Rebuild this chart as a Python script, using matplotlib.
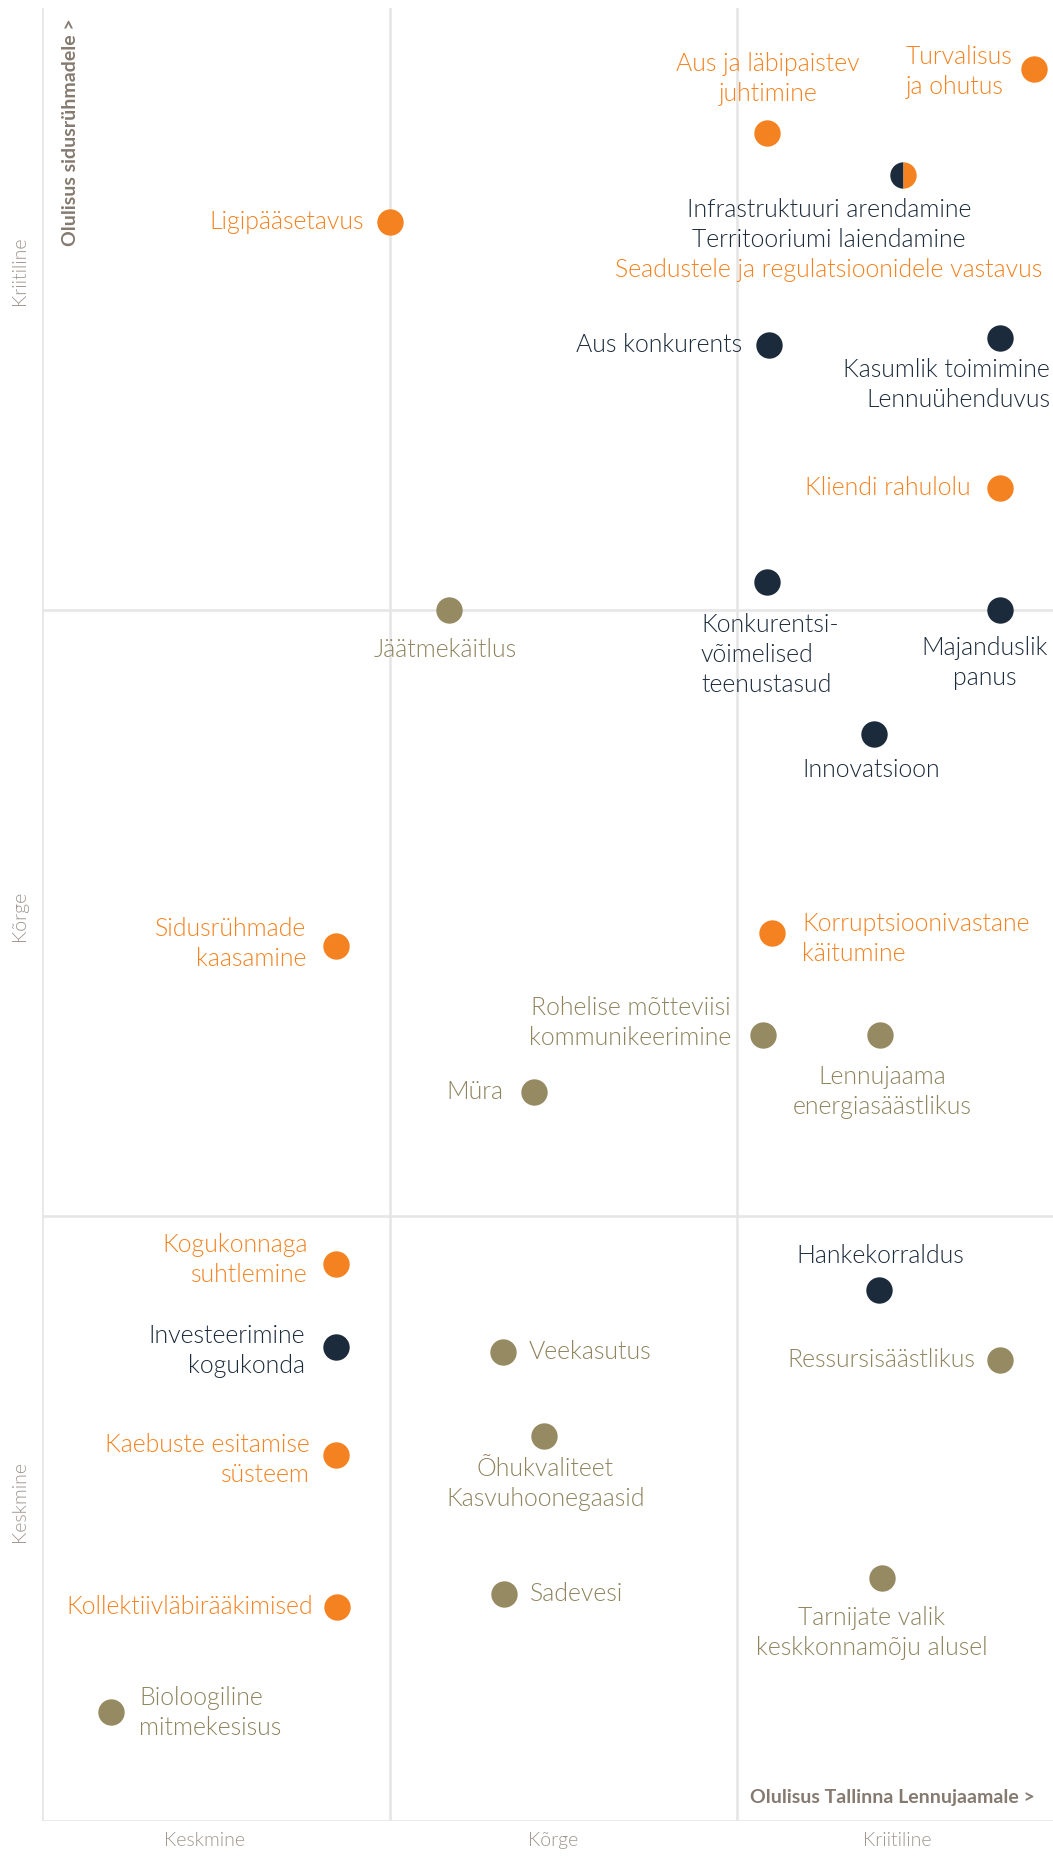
import matplotlib
matplotlib.use("Agg")
import matplotlib.pyplot as plt

# ---------------- data ----------------
topics = [
    "Turvalisus\nja ohutus",
    "Aus ja läbipaistev\njuhtimine",
    "Infrastruktuuri arendamine\nTerritooriumi laiendamine\nSeadustele ja regulatsioonidele vastavus",
    "Aus konkurents",
    "Kasumlik toimimine\nLennuühenduvus",
    "Ligipääsetavus",
    "Kliendi rahulolu",
    "Konkurentsi-\nvõimelised\nteenustasud",
    "Majanduslik\npanus",
    "Innovatsioon",
    "Jäätmekäitlus",
    "Sidusrühmade\nkaasamine",
    "Korruptsioonivastane\nkäitumine",
    "Rohelise mõtteviisi\nkommunikeerimine",
    "Lennujaama\nenergiasäästlikus",
    "Müra",
    "Hankekorraldus",
    "Ressursisäästlikus",
    "Kogukonnaga\nsuhtlemine",
    "Investeerimine\nkogukonda",
    "Veekasutus",
    "Kaebuste esitamise\nsüsteem",
    "Õhukvaliteet\nKasvuhoonegaasid",
    "Sadevesi",
    "Kollektiivläbirääkimised",
    "Tarnijate valik\nkeskkonnamõju alusel",
    "Bioloogiline\nmitmekesisus",
]
# importance to the airport (x) and to stakeholders (y), 0..3 scale
airport_importance = [2.855, 2.086, 2.478, 2.092, 2.757, 1.000, 2.757, 2.086, 2.757,
                      2.394, 1.171, 0.846, 2.101, 2.075, 2.412, 1.416, 2.409, 2.757,
                      0.846, 0.846, 1.327, 0.846, 1.445, 1.329, 0.849, 2.417, 0.199]
stakeholder_importance = [2.893, 2.788, 2.718, 2.438, 2.449, 2.641, 2.201, 2.046, 2.000,
                          1.795, 2.000, 1.445, 1.467, 1.298, 1.298, 1.204, 0.877, 0.761,
                          0.920, 0.783, 0.775, 0.604, 0.636, 0.375, 0.353, 0.401, 0.180]
# topic group: S = social (orange), E = economic (navy), K = environmental (tan), M = mixed
group = ["S", "S", "M", "E", "E", "S", "S", "E", "E",
         "E", "K", "S", "S", "K", "K", "K", "E", "K",
         "S", "E", "K", "S", "K", "K", "S", "K", "K"]
# per-line groups for the mixed label
mixed_line_groups = ["E", "E", "S"]

level_labels = ["Keskmine", "Kõrge", "Kriitiline"]
x_title = "Olulisus Tallinna Lennujaamale >"
y_title = "Olulisus sidusrühmadele >"

# ---------------- layout / style ----------------
dot_color = {"S": "#F58220", "E": "#1C2B3B", "K": "#968A63"}
text_color = {"S": "#F58220", "E": "#1C2B3B", "K": "#8F845E"}
# label offsets in pixels (dx, dy of first line, + = up) and alignment
label_layout = [
    (-128, 12, "left"), (1, 69, "center"), (-74, -35, "center"), (-27, 0, "right"),
    (50, -32, "right"), (-26, 0, "right"), (-29, 0, "right"), (-66, -43, "left"),
    (-15, -38, "center"), (-3, -36, "center"), (-4, -40, "center"), (-30, 17, "right"),
    (30, 9, "left"), (-32, 27, "right"), (2, -42, "center"), (-31, 0, "right"),
    (1, 34, "center"), (-25, 0, "right"), (-28, 19, "right"), (-31, 11, "right"),
    (26, 0, "left"), (-26, 10, "right"), (1, -33, "center"), (26, 0, "left"),
    (-24, 0, "right"), (-10, -40, "center"), (28, 14, "left"),
]
LINE_STEP = 30
FONT = "Lato"
LABEL_SIZE = 17.9
LIGHT = 300

W, H = 1053, 1857
fig = plt.figure(figsize=(W / 100, H / 100), dpi=100)
left_px, right_px, top_px, bottom_px = 42, 1053, 8, 1821
ax = fig.add_axes([left_px / W, (H - bottom_px) / H,
                   (right_px - left_px) / W, (bottom_px - top_px) / H])
ax.set_xlim(0, (right_px - left_px) / 347.5)
ax.set_ylim(0, (bottom_px - top_px) / 605.5)
for s in ax.spines.values():
    s.set_visible(False)

grid_c = "#E6E6E6"
for v in [0, 1, 2]:
    ax.axvline(v, color=grid_c, lw=1.9, zorder=0)
    ax.axhline(v, color=grid_c, lw=1.9, zorder=0)

# ticks
ax.set_xticks([0.469, 1.471, 2.460], level_labels, fontfamily=FONT,
              fontweight=LIGHT, fontsize=14, color="#9E958E")
ax.set_yticks([0.527, 1.495, 2.561], level_labels, rotation=90, va="center",
              ha="center", fontfamily=FONT, fontweight=LIGHT, fontsize=14,
              color="#9E958E")
ax.tick_params(axis="x", length=0, pad=8)
ax.tick_params(axis="y", length=0, pad=16)

# dots
for g in ["S", "E", "K"]:
    xs = [x for x, gg in zip(airport_importance, group) if gg == g]
    ys = [y for y, gg in zip(stakeholder_importance, group) if gg == g]
    ax.plot(xs, ys, "o", ms=19, mfc=dot_color[g], mec="none", zorder=3)
xs = [x for x, gg in zip(airport_importance, group) if gg == "M"]
ys = [y for y, gg in zip(stakeholder_importance, group) if gg == "M"]
ax.plot(xs, ys, "o", ms=19, fillstyle="left", mfc=dot_color["E"],
        mfcalt=dot_color["S"], mec="none", zorder=3)

# labels
for name, x, y, g, (dx, dy, ha) in zip(topics, airport_importance,
                                       stakeholder_importance, group, label_layout):
    lines = name.split("\n")
    for i, line in enumerate(lines):
        lg = mixed_line_groups[i] if g == "M" else g
        ax.annotate(line, (x, y), xytext=(dx, dy - i * LINE_STEP),
                    textcoords="offset pixels", ha=ha, va="center",
                    fontfamily=FONT, fontweight=LIGHT, fontsize=LABEL_SIZE,
                    color=text_color[lg], zorder=4)

# axis titles
title_c = "#857A70"
fig.text(1035 / W, 1 - 1797 / H, x_title, ha="right", va="center",
         fontfamily=FONT, fontweight="bold", fontsize=14, color=title_c)
fig.text(70 / W, 1 - 18 / H, y_title, ha="center", va="top", rotation=90,
         fontfamily=FONT, fontweight="bold", fontsize=14, color=title_c)

fig.savefig("out.png", dpi=100)
